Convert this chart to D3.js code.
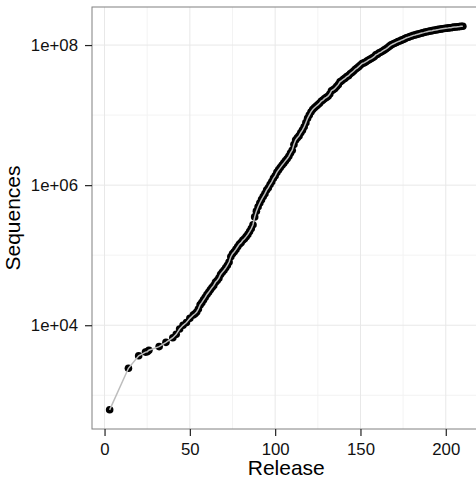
<!DOCTYPE html>
<html>
<head>
<meta charset="utf-8">
<script src="https://cdn.jsdelivr.net/npm/d3@7"></script>
<style>
  body { margin: 0; background: #fff; }
  svg { display: block; font-family: "Liberation Sans", Arial, sans-serif; }
</style>
</head>
<body>
<svg width="476" height="478"></svg>
<script>
// GenBank releases and number of sequences in each
var releases = [3, 14, 20, 24, 25, 26, 32, 36, 40, 42, 44, 46, 48, 50, 52, 53, 54,
  55, 56, 57, 58, 59, 60, 61, 62, 63, 64, 65, 66, 67, 68, 69, 70, 71, 72, 73, 74,
  75, 76, 77, 78, 79, 80, 81, 82, 83, 84, 85, 86, 87, 88, 89, 90, 91, 92, 93, 94,
  95, 96, 97, 98, 99, 100, 101, 102, 103, 104, 105, 106, 107, 108, 109, 110, 111,
  112, 113, 114, 115, 116, 117, 118, 119, 120, 121, 122, 123, 124, 125, 126, 127,
  128, 129, 130, 131, 132, 133, 134, 135, 136, 137, 138, 139, 140, 141, 142, 143,
  144, 145, 146, 147, 148, 149, 150, 151, 152, 153, 154, 155, 156, 157, 158, 159,
  160, 161, 162, 163, 164, 165, 166, 167, 168, 169, 170, 171, 172, 173, 174, 175,
  176, 177, 178, 179, 180, 181, 182, 183, 184, 185, 186, 187, 188, 189, 190, 191,
  192, 193, 194, 195, 196, 197, 198, 199, 200, 201, 202, 203, 204, 205, 206, 207,
  208, 209, 210];

var sequences = [620, 2427, 3665, 4135, 4175, 4393, 4954, 5700, 6642, 7416, 8823,
  9978, 10913, 12534, 14020, 14584, 15465,
  17047, 19500, 21000, 23000, 25000, 27500, 29500, 32000, 34500, 37000, 41000,
  43500, 47000, 53000, 57000, 61000, 66000, 72000, 80000, 95000,
  105000, 112000, 121000, 132000, 143500, 151000, 163000, 172000, 184000, 198000,
  217000, 240000, 272000, 352000, 425211, 492483, 555694, 620765, 685693, 755736,
  849066, 919692, 1021211, 1114581, 1250000, 1360000, 1520000, 1650000, 1780000,
  1920000, 2060000, 2220000, 2380000, 2580000, 2880000, 3150000, 3800000,
  4400000, 4750000, 5050000, 5600000, 6100000, 6800000, 7800000, 9000000,
  10000000, 11100000, 12000000, 12700000, 13400000, 14000000, 14800000, 15800000,
  16400000, 17300000, 17900000, 18600000, 20000000, 22300000, 23000000, 24000000,
  25600000, 27200000, 29800000, 31000000, 32500000, 33700000, 35500000, 36600000,
  39000000, 40600000, 42700000, 45200000, 47000000, 49200000, 52000000, 54600000,
  55600000, 57400000, 59500000, 61800000, 63600000, 65700000, 68200000, 72400000,
  74200000, 77500000, 79300000, 82300000, 85300000, 88500000, 92000000, 96500000,
  100500000, 103500000, 106000000, 109000000, 112000000, 114500000, 117500000,
  120000000, 123500000, 127000000, 129000000, 132000000, 134500000, 137500000,
  139500000, 142000000, 143500000, 146400000, 148500000, 150500000, 153000000,
  155000000, 157000000, 159000000, 160500000, 162500000, 164000000, 166000000,
  167500000, 169000000, 170500000, 172000000, 173500000, 174500000, 176000000,
  177000000, 179000000, 180500000, 181500000, 182500000, 183500000, 185000000,
  186000000];

var xTicks = [0, 50, 100, 150, 200];
var xMinor = [25, 75, 125, 175, 225];
var yTicks = [1e4, 1e6, 1e8];
var yMinor = [1e3, 1e5, 1e7];
var yLabels = ["1e+04", "1e+06", "1e+08"];

var data = releases.map(function(r, i) { return {release: r, sequences: sequences[i]}; });

var svg = d3.select("svg");

// panel (right edge falls off the picture, as in the original)
var pLeft = 92, pTop = 7, pBottom = 429, pRight = 480.5;

// ggplot-like 5% expansion of the data range
var xExt = d3.extent(releases), xPad = (xExt[1] - xExt[0]) * 0.05;
var x = d3.scaleLinear()
    .domain([xExt[0] - xPad, xExt[1] + xPad])
    .range([pLeft, pRight]);

var lExt = d3.extent(sequences).map(Math.log10), lPad = (lExt[1] - lExt[0]) * 0.05;
var y = d3.scaleLog()
    .domain([Math.pow(10, lExt[0] - lPad), Math.pow(10, lExt[1] + lPad)])
    .range([pBottom, pTop]);

// grid lines
var grid = svg.append("g");
grid.selectAll(".xminor").data(xMinor).enter().append("line")
    .attr("x1", function(d) { return x(d); }).attr("x2", function(d) { return x(d); })
    .attr("y1", pTop).attr("y2", pBottom)
    .style("stroke", "#f3f3f3").style("stroke-width", 1);
grid.selectAll(".yminor").data(yMinor).enter().append("line")
    .attr("x1", pLeft).attr("x2", pRight)
    .attr("y1", function(d) { return y(d); }).attr("y2", function(d) { return y(d); })
    .style("stroke", "#f3f3f3").style("stroke-width", 1);
grid.selectAll(".xmajor").data(xTicks).enter().append("line")
    .attr("x1", function(d) { return x(d); }).attr("x2", function(d) { return x(d); })
    .attr("y1", pTop).attr("y2", pBottom)
    .style("stroke", "#e8e8e8").style("stroke-width", 1);
grid.selectAll(".ymajor").data(yTicks).enter().append("line")
    .attr("x1", pLeft).attr("x2", pRight)
    .attr("y1", function(d) { return y(d); }).attr("y2", function(d) { return y(d); })
    .style("stroke", "#e8e8e8").style("stroke-width", 1);

// points first, grey line on top of them
svg.append("g").selectAll("circle")
    .data(data)
    .enter().append("circle")
    .attr("cx", function(d) { return x(d.release); })
    .attr("cy", function(d) { return y(d.sequences); })
    .attr("r", 3.8)
    .style("fill", "black");

svg.append("path")
    .datum(data)
    .attr("d", d3.line()
        .x(function(d) { return x(d.release); })
        .y(function(d) { return y(d.sequences); }))
    .style("fill", "none")
    .style("stroke", "#bdbdbd")
    .style("stroke-width", 1.5);

// panel border
svg.append("rect")
    .attr("x", pLeft).attr("y", pTop)
    .attr("width", pRight - pLeft).attr("height", pBottom - pTop)
    .style("fill", "none").style("stroke", "#808080").style("stroke-width", 1);

// axes
var xAxis = svg.append("g")
    .attr("transform", "translate(0," + pBottom + ")")
    .call(d3.axisBottom(x).tickValues(xTicks).tickSizeInner(7).tickSizeOuter(0).tickPadding(7));
var yAxis = svg.append("g")
    .attr("transform", "translate(" + pLeft + ",0)")
    .call(d3.axisLeft(y).tickValues(yTicks).tickSizeInner(7).tickSizeOuter(0).tickPadding(7)
        .tickFormat(function(d, i) { return yLabels[i]; }));

[xAxis, yAxis].forEach(function(a) {
    a.select(".domain").remove();
    a.selectAll(".tick line").style("stroke", "#222").style("stroke-width", 1.2);
    a.selectAll(".tick text")
        .style("font-family", "'Liberation Sans', Arial, sans-serif")
        .style("font-size", "16.8px")
        .style("fill", "#111");
});

// axis titles
svg.append("text")
    .attr("x", (pLeft + pRight) / 2)
    .attr("y", 475)
    .attr("text-anchor", "middle")
    .style("font-size", "21px")
    .text("Release");

svg.append("text")
    .attr("transform", "translate(20," + ((pTop + pBottom) / 2) + ") rotate(-90)")
    .attr("text-anchor", "middle")
    .style("font-size", "21px")
    .text("Sequences");
</script>
</body>
</html>
